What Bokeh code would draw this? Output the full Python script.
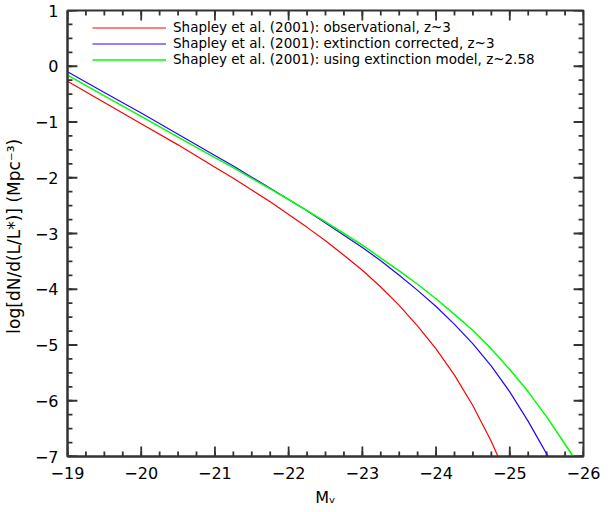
from bokeh.plotting import figure
from bokeh.models import Range1d, Legend, LegendItem, FixedTicker, CustomJSTickFormatter
from bokeh.embed import file_html
from bokeh.resources import INLINE

# ---- data ----
mag_obs = [-19.0, -19.5, -20.0, -20.5, -21.0, -21.25, -21.5, -21.75, -22.0, -22.25,
           -22.5, -22.75, -23.0, -23.25, -23.5, -23.75, -24.0, -24.25, -24.5, -24.75,
           -24.84]
logphi_obs = [-0.27, -0.65, -1.03, -1.41, -1.81, -2.01, -2.22, -2.43, -2.66, -2.89,
              -3.13, -3.39, -3.66, -3.96, -4.29, -4.66, -5.07, -5.54, -6.09, -6.73,
              -7.0]

mag_corr = [-19.0, -19.5, -20.0, -20.5, -21.0, -21.25, -21.5, -21.75, -22.0, -22.25,
            -22.5, -22.75, -23.0, -23.25, -23.5, -23.75, -24.0, -24.25, -24.5, -24.75,
            -25.0, -25.25, -25.4, -25.52]
logphi_corr = [-0.10, -0.47, -0.84, -1.22, -1.60, -1.79, -1.99, -2.19, -2.39, -2.59,
               -2.81, -3.03, -3.25, -3.49, -3.75, -4.02, -4.31, -4.63, -4.98, -5.38,
               -5.84, -6.37, -6.72, -7.0]

mag_model = [-19.0, -19.5, -20.0, -20.5, -21.0, -21.25, -21.5, -21.75, -22.0, -22.25,
             -22.5, -22.75, -23.0, -23.25, -23.5, -23.75, -24.0, -24.25, -24.5, -24.75,
             -25.0, -25.25, -25.5, -25.75, -25.86]
logphi_model = [-0.16, -0.53, -0.90, -1.27, -1.64, -1.82, -2.01, -2.20, -2.39, -2.59,
                -2.79, -3.00, -3.21, -3.44, -3.67, -3.91, -4.17, -4.45, -4.74, -5.07,
                -5.44, -5.84, -6.29, -6.78, -7.0]

labels = ["Shapley et al. (2001): observational, z~3",
          "Shapley et al. (2001): extinction corrected, z~3",
          "Shapley et al. (2001): using extinction model, z~2.58"]

x_major = [-19, -20, -21, -22, -23, -24, -25, -26]
x_minor = [-19 - 0.25 * i for i in range(29)]
y_major = [-7, -6, -5, -4, -3, -2, -1, 0, 1]
y_minor = [-7 + 0.25 * i for i in range(33)]

X0, X1 = -19, -26
Y0, Y1 = -7, 1
FONT = "DejaVu Sans"
W, H = 613, 512
BL, BR, BT, BB = 62, 30, 10, 56
FW, FH = W - BL - BR, H - BT - BB
TICK = "#333333"

p = figure(width=W, height=H, output_backend="svg", toolbar_location=None,
           x_range=Range1d(X0, X1), y_range=Range1d(Y0, Y1),
           min_border_left=BL, min_border_right=BR, min_border_top=BT,
           min_border_bottom=BB)
p.grid.visible = False
p.outline_line_color = TICK
p.outline_line_width = 2
p.background_fill_color = "white"
p.border_fill_color = "white"

minus_fmt = CustomJSTickFormatter(code="return tick.toString().replace('-', '\u2212');")

for ax in (p.xaxis[0], p.yaxis[0]):
    ax.axis_line_color = TICK
    ax.axis_line_width = 2
    ax.major_tick_line_color = None
    ax.minor_tick_line_color = None
    ax.major_tick_in = 0
    ax.major_tick_out = 0
    ax.minor_tick_in = 0
    ax.minor_tick_out = 0
    ax.formatter = minus_fmt
    ax.major_label_text_font = FONT
    ax.major_label_text_font_size = "16px"
    ax.major_label_text_color = "black"
    ax.axis_label_text_font = FONT
    ax.axis_label_text_font_style = "normal"
    ax.axis_label_text_color = "black"

xb = p.xaxis[0]
xb.ticker = FixedTicker(ticks=x_major, minor_ticks=[])
xb.major_label_standoff = 10
xb.axis_label = "M\u1d65"
xb.axis_label_text_font_size = "16px"
xb.axis_label_standoff = 6

yl = p.yaxis[0]
yl.ticker = FixedTicker(ticks=y_major, minor_ticks=[])
yl.major_label_standoff = 9
yl.axis_label = "log[dN/d(L/L*)]  (Mpc\u207b\u00b3)"
yl.axis_label_text_font_size = "17px"
yl.axis_label_standoff = 8

# inward tick marks on all four sides, built from the tick lists
def tick_len(px, span, frame_px):
    return px * abs(span) / frame_px

bx0, by0, bx1, by1 = [], [], [], []
for ticks, lpx in ((x_major, 10), (x_minor, 5)):
    ly = tick_len(lpx, Y1 - Y0, FH)
    for t in ticks:
        bx0 += [t, t]; bx1 += [t, t]
        by0 += [Y0, Y1]; by1 += [Y0 + ly, Y1 - ly]
for ticks, lpx in ((y_major, 10), (y_minor, 5)):
    lx = tick_len(lpx, X1 - X0, FW)
    for t in ticks:
        bx0 += [X0, X1]; bx1 += [X0 - lx, X1 + lx]
        by0 += [t, t]; by1 += [t, t]
p.segment(x0=bx0, y0=by0, x1=bx1, y1=by1, line_color=TICK, line_width=1.8)

r1 = p.line(mag_obs, logphi_obs, line_color="#ff0000", line_width=1.2)
r2 = p.line(mag_corr, logphi_corr, line_color="#2a00ff", line_width=1.2)
r3 = p.line(mag_model, logphi_model, line_color="#00ff00", line_width=1.5)

leg = Legend(items=[LegendItem(label=labels[0], renderers=[r1]),
                    LegendItem(label=labels[1], renderers=[r2]),
                    LegendItem(label=labels[2], renderers=[r3])],
             location=(25, 389))
leg.margin = 0
leg.padding = 0
leg.spacing = 0
leg.glyph_width = 74
leg.glyph_height = 15
leg.label_height = 15
leg.label_standoff = 7
leg.label_text_font = FONT
leg.label_text_font_size = "13.5px"
leg.label_text_color = "black"
leg.border_line_alpha = 0
leg.background_fill_alpha = 0
p.add_layout(leg, "center")

open("out.html", "w").write(file_html(p, INLINE))
